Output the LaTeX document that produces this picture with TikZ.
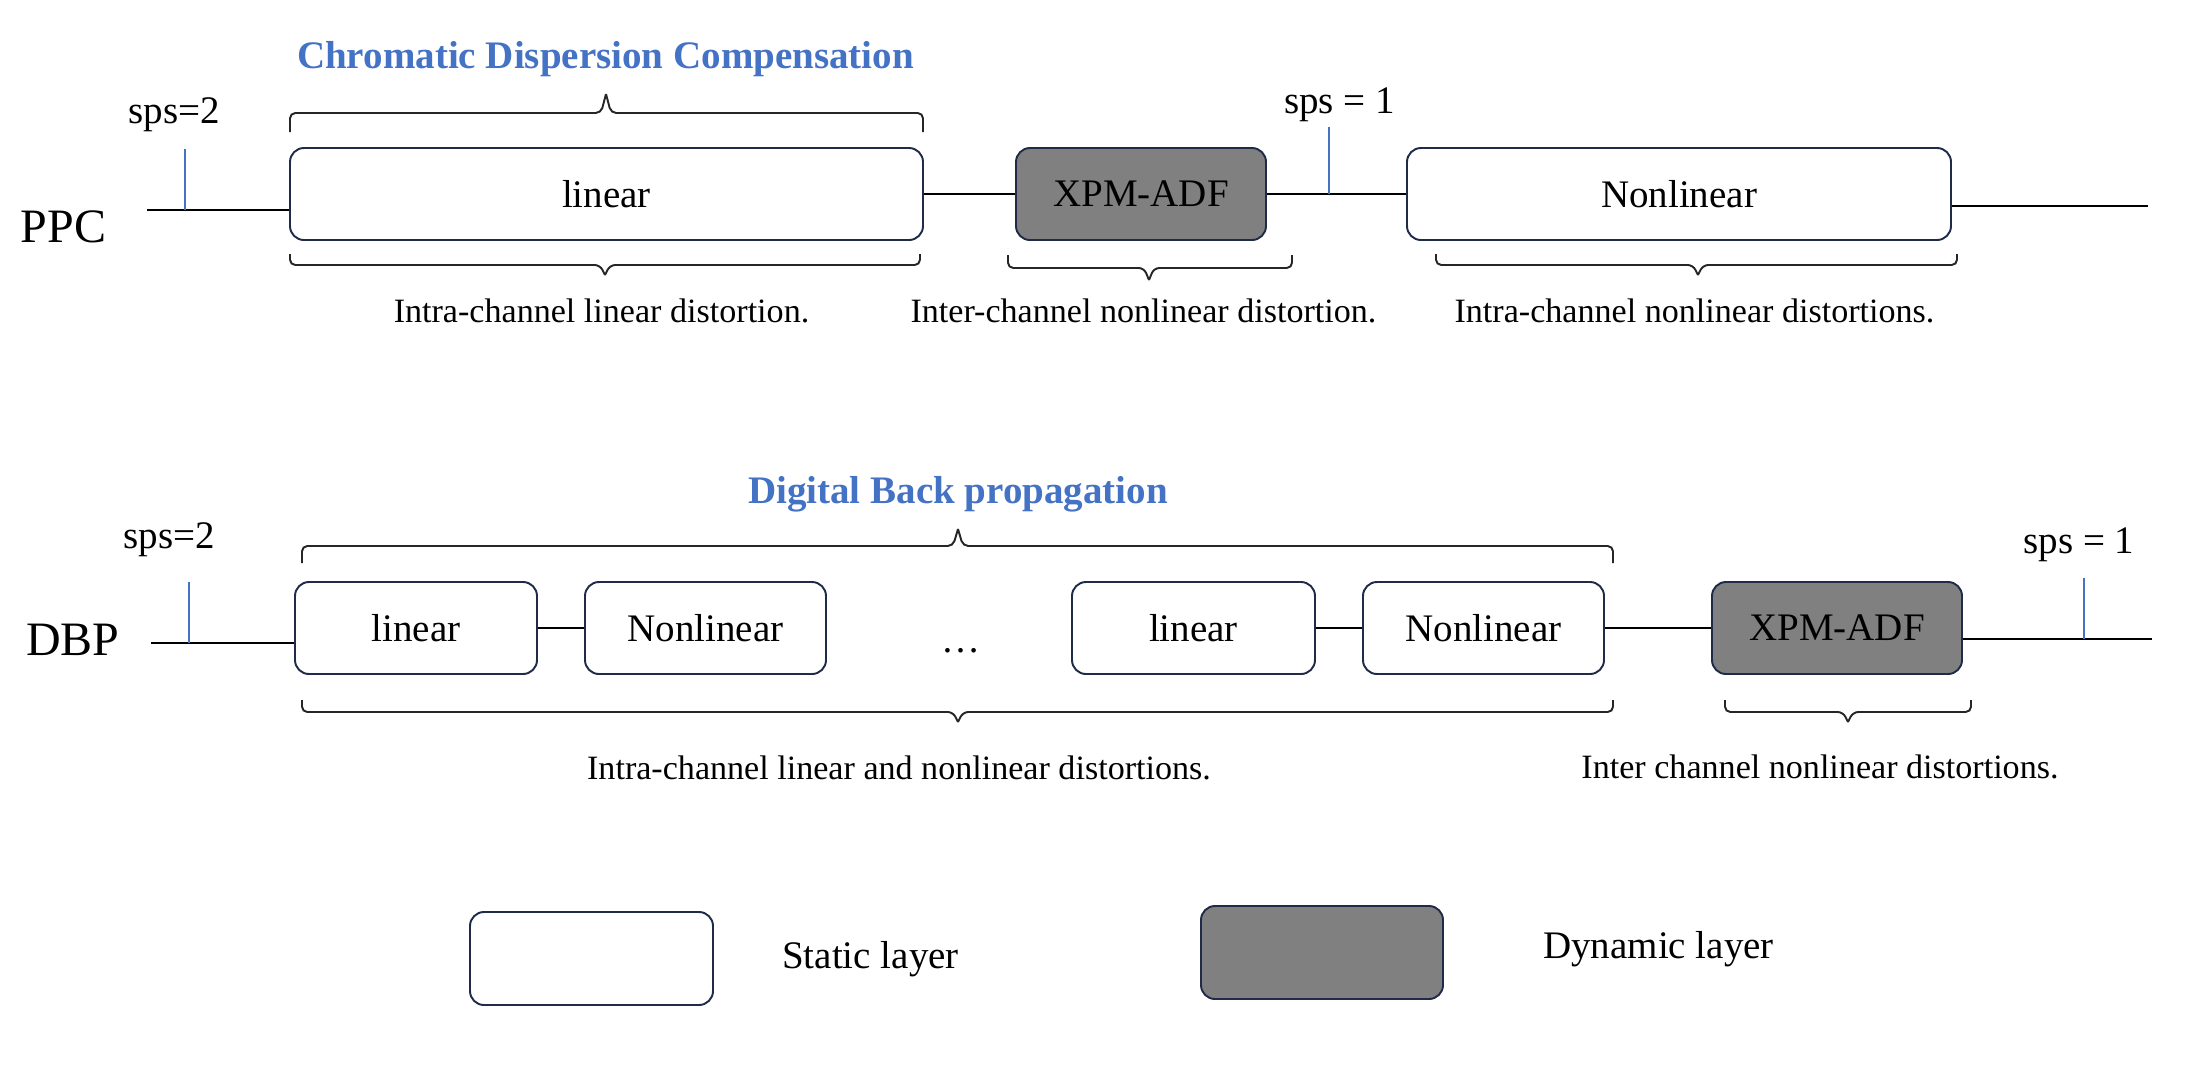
\documentclass[tikz,border=0pt]{standalone}
\usepackage{fontspec}
\setmainfont{Liberation Serif}
\definecolor{navy}{RGB}{31,43,72}
\definecolor{tblue}{RGB}{68,114,196}
\definecolor{dgray}{RGB}{128,128,128}
\newcommand{\fmain}{\fontsize{22.2}{26}\selectfont}
\newcommand{\flab}{\fontsize{19.4}{23}\selectfont}
\newcommand{\fbig}{\fontsize{27.3}{32}\selectfont}
\newcommand{\ftitle}{\fontsize{22.2}{26}\selectfont\bfseries\color{tblue}}
\newcommand{\cbrace}[6]{%
  \draw[brc] (#1,#4) -- (#1,#5) -- ({#3-5},#5) -- (#3,#6);
  \draw[brc] (#3,#6) -- ({#3+5},#5) -- (#2,#5) -- (#2,#4);}
\tikzset{
  box/.style={draw=navy, line width=1.1pt, rounded corners=0.28cm, inner sep=0pt,
    minimum height=92*0.02cm, font=\fmain},
  sbox/.style={box, fill=white},
  dbox/.style={box, fill=dgray},
  wire/.style={line width=1.2pt, black},
  tickline/.style={line width=0.6pt, tblue},
  brc/.style={line width=1.1pt, black!85, rounded corners=3pt},
  lab/.style={font=\flab, anchor=base, inner sep=0pt},
  txt/.style={font=\fmain, anchor=base, inner sep=0pt},
  big/.style={font=\fbig, anchor=base, inner sep=0pt},
  ttl/.style={font=\ftitle, anchor=base, inner sep=0pt}
}
\begin{document}
\begin{tikzpicture}[x=0.02cm, y=-0.02cm]
\useasboundingbox (0,0) rectangle (2212,1066);

% ---------------- PPC row ----------------
\node[ttl] (ttl1) at (605.5,68) {Chromatic Dispersion Compensation};
\node[big] (ppc) at (63.5,242) {PPC};
\node[txt] (sps1) at (174.5,123) {sps=2};
\node[txt] (sps2) at (1339.5,113) {sps = 1};

\node[sbox, minimum width=633*0.02cm] (lin1) at (606.5,194) {linear};
\node[dbox, minimum width=250*0.02cm] (xpm1) at (1141,194) {XPM-ADF};
\node[sbox, minimum width=544*0.02cm] (nl1) at (1679,194) {Nonlinear};

\coordinate (pin) at (147,210);
\coordinate (pout) at (2148,206);
\draw[wire] (pin) -- (pin -| lin1.west);
\draw[wire] (lin1.east) -- (xpm1.west);
\draw[wire] (xpm1.east) -- (nl1.west);
\draw[wire] (pout -| nl1.east) -- (pout);

\coordinate (tk1) at (185,149);
\coordinate (tk2) at (1329,127);
\draw[tickline] (tk1) -- (tk1 |- pin);
\draw[tickline] (tk2) -- (tk2 |- xpm1.east);

\cbrace{290}{923}{606}{132}{113}{94}
\cbrace{290}{920}{605}{254}{265}{275}
\cbrace{1008}{1292}{1149}{255}{268}{280}
\cbrace{1436}{1957}{1698}{254}{265}{275}

\node[lab] (l1) at (601.5,322) {Intra-channel linear distortion.};
\node[lab] (l2) at (1143.5,322) {Inter-channel nonlinear distortion.};
\node[lab] (l3) at (1694.5,322) {Intra-channel nonlinear distortions.};

% ---------------- DBP row ----------------
\node[ttl] (ttl2) at (958,503) {Digital Back propagation};
\node[big] (dbp) at (73,655) {DBP};
\node[txt] (sps3) at (169.5,548) {sps=2};
\node[txt] (sps4) at (2079,553) {sps = 1};

\node[sbox, minimum width=242*0.02cm] (l2a) at (416,628) {linear};
\node[sbox, minimum width=241*0.02cm] (n2a) at (705.5,628) {Nonlinear};
\node[txt] (dots) at (961,652) {…};
\node[sbox, minimum width=243*0.02cm] (l2b) at (1193.5,628) {linear};
\node[sbox, minimum width=241*0.02cm] (n2b) at (1483.5,628) {Nonlinear};
\node[dbox, minimum width=250*0.02cm] (xpm2) at (1837,628) {XPM-ADF};

\coordinate (din) at (151,643);
\coordinate (dout) at (2152,639);
\draw[wire] (din) -- (din -| l2a.west);
\draw[wire] (l2a.east) -- (n2a.west);
\draw[wire] (l2b.east) -- (n2b.west);
\draw[wire] (n2b.east) -- (xpm2.west);
\draw[wire] (dout -| xpm2.east) -- (dout);

\coordinate (tk3) at (189,582);
\coordinate (tk4) at (2084,578);
\draw[tickline] (tk3) -- (tk3 |- din);
\draw[tickline] (tk4) -- (tk4 |- dout);

\cbrace{302}{1613}{958}{563}{546}{529}
\cbrace{302}{1613}{958}{700}{712}{722}
\cbrace{1725}{1971}{1848}{700}{712}{722}

\node[lab] (l4) at (899,779) {Intra-channel linear and nonlinear distortions.};
\node[lab] (l5) at (1820,778) {Inter channel nonlinear distortions.};

% ---------------- Legend ----------------
\node[sbox, minimum width=243*0.02cm, minimum height=93*0.02cm] (legs) at (591.5,958.5) {};
\node[txt] (legst) at (870.5,968) {Static layer};
\node[dbox, minimum width=242*0.02cm, minimum height=93*0.02cm] (legd) at (1322,952.5) {};
\node[txt] (legdt) at (1658.5,958) {Dynamic layer};
\end{tikzpicture}
\end{document}
